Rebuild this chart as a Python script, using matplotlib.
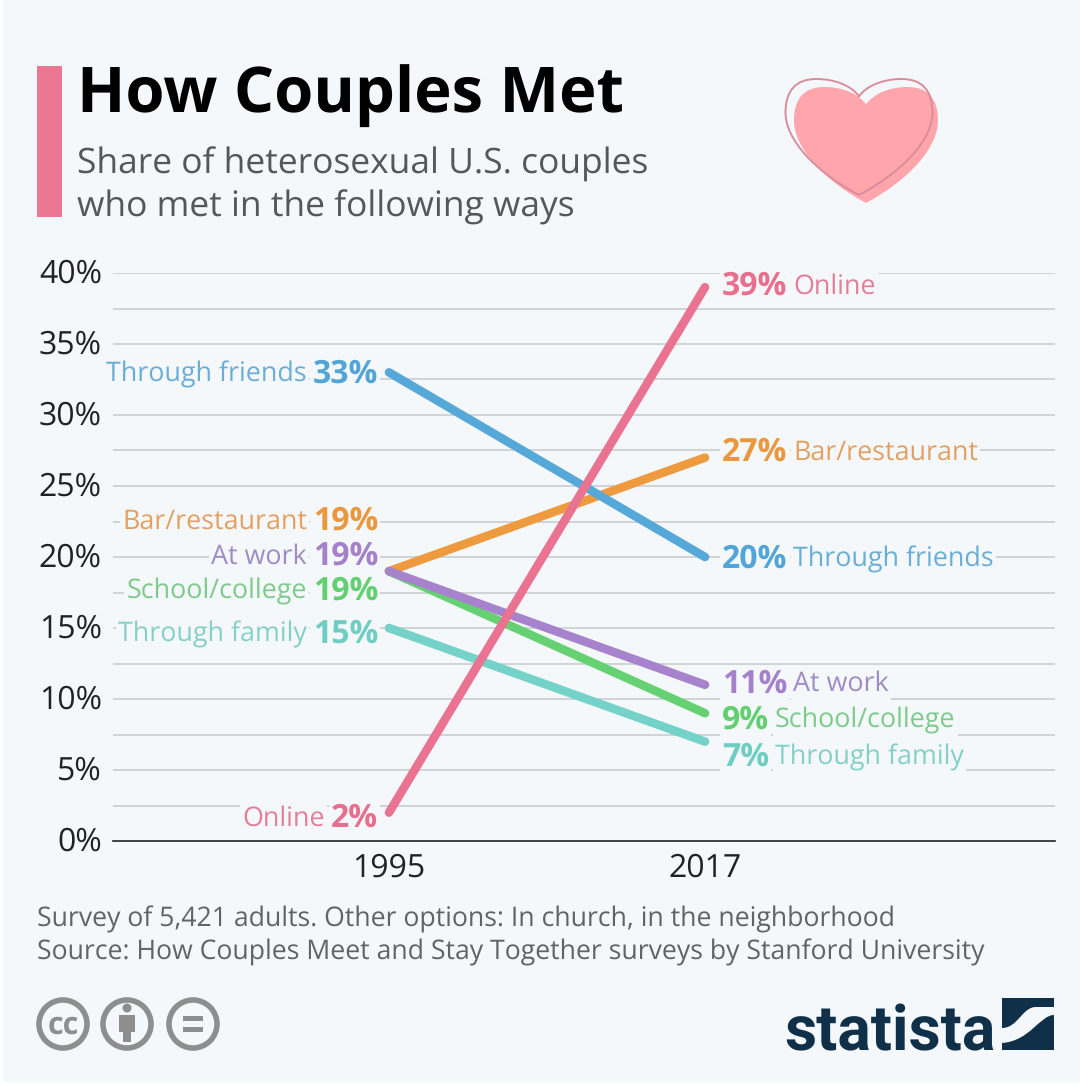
import matplotlib
matplotlib.use("Agg")
import matplotlib.pyplot as plt
from matplotlib.patches import Rectangle, Circle, PathPatch
from matplotlib.path import Path
from matplotlib.transforms import ScaledTranslation

plt.rcParams['font.family'] = ['Open Sans', 'DejaVu Sans']
plt.rcParams['text.hinting'] = 'no_hinting'

years = ['1995', '2017']
online = [2, 39]
friends = [33, 20]
bar = [19, 27]
work = [19, 11]
school = [19, 9]
family = [15, 7]

names = ['Through family', 'School/college', 'Bar/restaurant', 'Through friends', 'At work', 'Online']
series = [family, school, bar, friends, work, online]
colors = ['#74d2c8', '#66d172', '#ee9a3f', '#56a8d8', '#a683cc', '#ea7391']
text_colors = ['#6fcdc3', '#62cf70', '#ea973d', '#52a5d6', '#a481ca', '#e8708e']
name_colors = ['#84d0c8', '#7ccb8a', '#e3a061', '#6aaed6', '#9f8cc4', '#e37f97']

yticks = [0, 5, 10, 15, 20, 25, 30, 35, 40]
minor = [2.5, 7.5, 12.5, 17.5, 22.5, 27.5, 32.5, 37.5]

# label height, where the label had to move away from its neighbour
left_y = [14.55, 17.55, 22.5, 32.85, 20.05, 1.6]
right_y = [5.9, 8.5, 27.35, 19.85, 11.05, 39.05]

W, H = 1080, 1085
BG = '#f5f8fb'
fig = plt.figure(figsize=(W / 100, H / 100), dpi=100, facecolor=BG)

# pixel overlay for the header and footer
bg = fig.add_axes([0, 0, 1, 1], zorder=0)
bg.set_xlim(0, W)
bg.set_ylim(H, 0)
bg.axis('off')
bg.add_patch(Rectangle((0, 0), 2.5, H, color='white', lw=0))
bg.add_patch(Rectangle((0, 1082), W, 3, color='white', lw=0))
bg.add_patch(Rectangle((37, 66), 25, 151, color='#ec7792', lw=0))
bg.text(77, 96, 'How Couples Met', fontsize=45.5, fontweight='bold', color='black', va='center', ha='left')
bg.text(77, 164, 'Share of heterosexual U.S. couples', fontsize=25.5, color='#54585c', va='center')
bg.text(77, 207.5, 'who met in the following ways', fontsize=25.5, color='#54585c', va='center')


def heart(cx, top, w, h):
    left = [(0, 1), (-0.3, 0.8), (-0.5, 0.52), (-0.5, 0.29), (-0.5, 0.10), (-0.43, 0), (-0.29, 0),
            (-0.16, 0), (-0.05, 0.06), (0, 0.15)]
    right = [(0.05, 0.06), (0.16, 0), (0.29, 0), (0.43, 0), (0.5, 0.10), (0.5, 0.29),
             (0.5, 0.52), (0.3, 0.8), (0, 1)]
    verts = left + right
    codes = [Path.MOVETO] + [Path.CURVE4] * 18
    return Path([(cx + x * w, top + y * h) for x, y in verts], codes)


bg.add_patch(PathPatch(heart(866, 87, 144, 116), fc='#ffa5ab', ec='none'))
bg.add_patch(PathPatch(heart(859, 79, 147, 116), fc='none', ec='#d98d9b', lw=1.4))

bg.text(37, 919, 'Survey of 5,421 adults. Other options: In church, in the neighborhood', fontsize=19.2, color='#606468', va='center')
bg.text(37, 952, 'Source: How Couples Meet and Stay Together surveys by Stanford University', fontsize=19.2, color='#606468', va='center')

for cx in [63, 127, 193]:
    bg.add_patch(Circle((cx, 1024), 24, fc='none', ec='#8e8e8e', lw=4))
bg.text(63, 1026, 'cc', fontsize=22, fontweight='bold', color='#8e8e8e', ha='center', va='center')
bg.add_patch(Circle((127, 1008), 4.5, color='#8e8e8e', lw=0))
bg.add_patch(Rectangle((119, 1015), 16, 17, color='#8e8e8e', lw=0))
bg.add_patch(Rectangle((123, 1030), 8, 12, color='#8e8e8e', lw=0))
bg.add_patch(Rectangle((183, 1016), 20, 5, color='#8e8e8e', lw=0))
bg.add_patch(Rectangle((183, 1027), 20, 5, color='#8e8e8e', lw=0))

bg.text(784, 1050, 'statista', fontsize=45, fontweight='bold', color='#10304a', ha='left', va='baseline',
        family=['Roboto', 'Liberation Sans'])
logo_top = [(1002, 998), (1054, 998), (1054, 1007), (1036, 1007), (1022, 1007), (1018, 1028), (1002, 1028), (1002, 998)]
logo_bot = [(1054, 1015), (1040, 1015), (1030, 1041), (1002, 1043), (1002, 1050), (1054, 1050), (1054, 1015)]
top_codes = [Path.MOVETO, Path.LINETO, Path.LINETO, Path.LINETO, Path.CURVE4, Path.CURVE4, Path.CURVE4, Path.CLOSEPOLY]
bot_codes = [Path.MOVETO, Path.CURVE4, Path.CURVE4, Path.CURVE4, Path.LINETO, Path.LINETO, Path.CLOSEPOLY]
bg.add_patch(PathPatch(Path(logo_top, top_codes), fc='#10304a', ec='none'))
bg.add_patch(PathPatch(Path(logo_bot, bot_codes), fc='#10304a', ec='none'))

# chart area, 0% to 40% between pixel rows 841 and 273
x0, x1 = 113, 1055
y_bottom, y_top = 841, 273
ax = fig.add_axes([x0 / W, 1 - y_bottom / H, (x1 - x0) / W, (y_bottom - y_top) / H], zorder=1)
ax.patch.set_alpha(0)
ax.set_ylim(0, 40)
ax.set_xlim(-(389 - x0) / 316, (x1 - 389) / 316)
for s in ['top', 'right', 'left']:
    ax.spines[s].set_visible(False)
ax.spines['bottom'].set_color('#222222')
ax.spines['bottom'].set_linewidth(1.2)
ax.set_xticks([0, 1])
ax.set_xticklabels(years, fontsize=23, color='#222222')
ax.set_yticks(yticks)
ax.set_yticklabels([f'{v}%' for v in yticks], fontsize=23, color='#222222')
ax.tick_params(axis='both', length=0)
ax.tick_params(axis='x', pad=8)
ax.tick_params(axis='y', pad=8)
ax.set_axisbelow(True)
# tick labels sit a little high in the original
nudge = ScaledTranslation(0, 2 / 100, fig.dpi_scale_trans)
for lbl in ax.get_yticklabels():
    lbl.set_transform(lbl.get_transform() + nudge)
for v in yticks[1:] + minor:
    ax.axhline(v, color='#c6cacd', lw=1.1, zorder=1)

for vals, col in zip(series, colors):
    ax.plot([0, 1], vals, color=col, lw=6.2, solid_capstyle='round', zorder=3)

halo = dict(facecolor=BG, edgecolor='none', pad=1.5)
for name, vals, tc, nc, ly, ry in zip(names, series, text_colors, name_colors, left_y, right_y):
    # left side: name then bold value, right aligned against the line start
    ax.annotate(f'{vals[0]}%', (0, ly), xytext=(-11, 0), textcoords='offset pixels', ha='right', va='center',
                fontsize=23, fontweight='bold', color=tc, bbox=halo, zorder=2)
    ax.annotate(name, (0, ly), xytext=(-82 if vals[0] > 9 else -64, 0), textcoords='offset pixels', ha='right', va='center',
                fontsize=19.4, color=nc, bbox=halo, zorder=2)
    # right side: bold value then name
    ax.annotate(f'{vals[1]}%', (1, ry), xytext=(17, 0), textcoords='offset pixels', ha='left', va='center',
                fontsize=23, fontweight='bold', color=tc, bbox=halo, zorder=2)
    ax.annotate(name, (1, ry), xytext=(88 if vals[1] > 9 else 70, 0), textcoords='offset pixels', ha='left', va='center',
                fontsize=19.4, color=nc, bbox=halo, zorder=2)

fig.savefig('out.png', dpi=100, facecolor=fig.get_facecolor())
